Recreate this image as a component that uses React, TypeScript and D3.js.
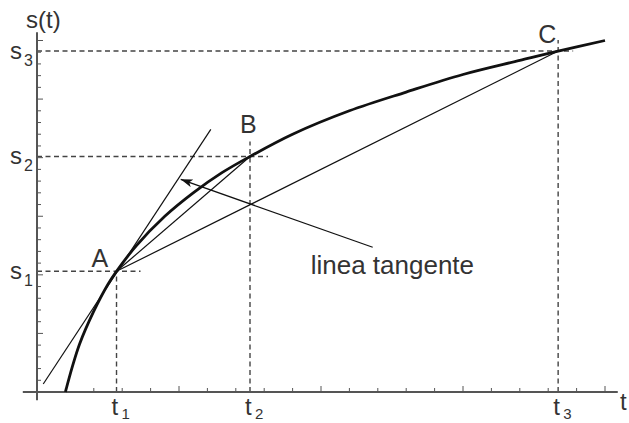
import React from "react";
import * as d3 from "d3";

// Position curve s(t), sampled points (t, s)
const curveT = [1, 1.25, 1.5, 2, 2.5, 2.8, 3.5, 4.5, 5.5, 6.5, 7.5, 9, 11, 13, 15, 17, 18.35, 20];
const curveS = [0, 2.2, 4.1, 6.9, 9.2, 10.3, 12.5, 15.0, 17.0, 18.7, 20.1, 22.0, 24.0, 25.6, 27.1, 28.3, 29.1, 30.0];

// Marked points A, B, C
const pointNames = ["A", "B", "C"];
const pointT = [2.8, 7.5, 18.35];
const pointS = [10.3, 20.1, 29.1];
const tLabels = ["1", "2", "3"];
const sLabels = ["1", "2", "3"];

// Tangent line at A (end points)
const tangentT = [0.22, 6.12];
const tangentS = [0.68, 22.42];

// Annotation arrow (tail -> head) and its text
const arrowT = [11.82, 5.06];
const arrowS = [12.35, 18.15];
const annotationText = "linea tangente";

// Axis tick values
const xTicks = d3.range(1, 21);
const yTicks = d3.range(1, 31);

const W = 629;
const H = 423;
const FONT = "'Liberation Sans', Arial, Helvetica, sans-serif";
const TEXT = "#333";
const AXIS = "#555";

export default function App() {
  const x = d3.scaleLinear().domain([0, 20]).range([37, 605]);
  const y = d3.scaleLinear().domain([0, 30]).range([392, 40.5]);

  const line = d3
    .line<number>()
    .x((_, i) => x(curveT[i]))
    .y((_, i) => y(curveS[i]))
    .curve(d3.curveCatmullRom.alpha(0.5));

  // overshoot of dashed guides past each point (px)
  const hOver = [24, 18, 15];
  const vOver = [0, 15, 11];
  // label offsets relative to each point (px)
  const lblDx = [-25, -10, -20];
  const lblDy = [-4, -23, -8];

  return (
    <svg
      width={W}
      height={H}
      style={{ position: "fixed", left: 0, top: 0, background: "#fff" }}
      fontFamily={FONT}
    >
      <defs>
        <marker
          id="arrowHead"
          viewBox="0 0 12 8"
          refX="12"
          refY="4"
          markerWidth="12"
          markerHeight="8"
          markerUnits="userSpaceOnUse"
          orient="auto"
        >
          <path d="M0,0 L12,4 L0,8 L3,4 Z" fill="#111" />
        </marker>
      </defs>

      {/* dashed guides */}
      {pointT.map((t, i) => (
        <g key={"g" + i} stroke="#444" strokeWidth={1.4} strokeDasharray="5,3.5" fill="none">
          <line x1={x(0)} x2={x(t) + hOver[i]} y1={y(pointS[i])} y2={y(pointS[i])} />
          <line x1={x(t)} x2={x(t)} y1={y(0)} y2={y(pointS[i]) - vOver[i]} />
        </g>
      ))}

      {/* axes */}
      <line x1={x(-0.5)} x2={x(20.45)} y1={y(0)} y2={y(0)} stroke={AXIS} strokeWidth={2} />
      <line x1={x(0)} x2={x(0)} y1={y(-0.7)} y2={y(30.7)} stroke={AXIS} strokeWidth={2} />
      {xTicks.map((v) => (
        <line
          key={"xt" + v}
          x1={x(v)}
          x2={x(v)}
          y1={y(0)}
          y2={y(0) - (v % 5 === 0 ? 6 : 4)}
          stroke={AXIS}
          strokeWidth={1}
        />
      ))}
      {yTicks.map((v) => (
        <line
          key={"yt" + v}
          x1={x(0)}
          x2={x(0) + (v % 5 === 0 ? 6 : 4)}
          y1={y(v)}
          y2={y(v)}
          stroke={AXIS}
          strokeWidth={1}
        />
      ))}

      {/* tangent and secant lines */}
      <line
        x1={x(tangentT[0])}
        y1={y(tangentS[0])}
        x2={x(tangentT[1])}
        y2={y(tangentS[1])}
        stroke="#111"
        strokeWidth={1.2}
      />
      {[1, 2].map((j) => (
        <line
          key={"sec" + j}
          x1={x(pointT[0])}
          y1={y(pointS[0])}
          x2={x(pointT[j])}
          y2={y(pointS[j])}
          stroke="#111"
          strokeWidth={1.2}
        />
      ))}

      {/* curve */}
      <path d={line(curveT) || ""} fill="none" stroke="#111" strokeWidth={2.8} />

      {/* annotation arrow */}
      <line
        x1={x(arrowT[0])}
        y1={y(arrowS[0])}
        x2={x(arrowT[1])}
        y2={y(arrowS[1])}
        stroke="#111"
        strokeWidth={1.2}
        markerEnd="url(#arrowHead)"
      />
      <text x={x(arrowT[0]) - 62} y={y(arrowS[0]) + 27} fontSize={26} fill={TEXT}>
        {annotationText}
      </text>

      {/* point labels */}
      {pointNames.map((n, i) => (
        <text
          key={"pl" + n}
          x={x(pointT[i]) + lblDx[i]}
          y={y(pointS[i]) + lblDy[i]}
          fontSize={25}
          fill={TEXT}
        >
          {n}
        </text>
      ))}

      {/* s labels */}
      {pointS.map((s, i) => (
        <g key={"sl" + i} fill={TEXT}>
          <text x={10} y={y(s) + 8} fontSize={24}>s</text>
          <text x={24} y={y(s) + 15} fontSize={16}>{sLabels[i]}</text>
        </g>
      ))}

      {/* t labels */}
      {pointT.map((t, i) => (
        <g key={"tl" + i} fill={TEXT}>
          <text x={x(t) - 5} y={415} fontSize={24}>t</text>
          <text x={x(t) + 5} y={419} fontSize={15}>{tLabels[i]}</text>
        </g>
      ))}

      {/* axis titles */}
      <text x={26} y={28} fontSize={24} fill={TEXT}>s(t)</text>
      <text x={620} y={410} fontSize={24} fill={TEXT}>t</text>
    </svg>
  );
}
